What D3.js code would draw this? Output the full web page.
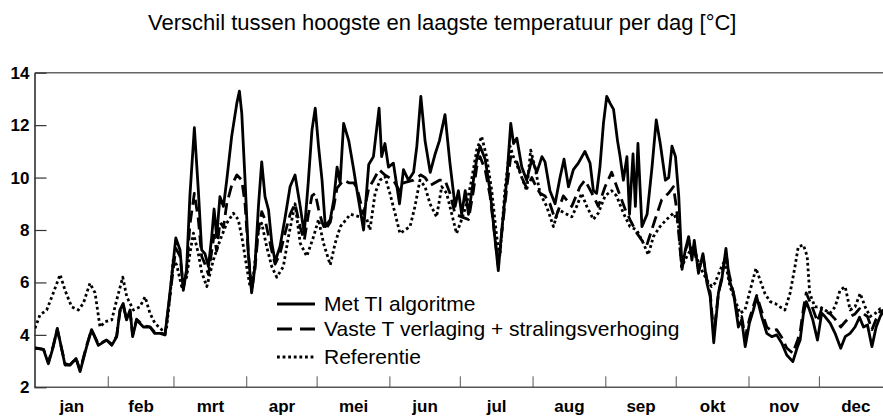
<!DOCTYPE html>
<html>
<head>
<meta charset="utf-8">
<script src="https://cdn.jsdelivr.net/npm/d3@7"></script>
<style>
  body { margin: 0; background: #fff; }
  svg text { font-family: "Liberation Sans", Arial, sans-serif; fill: #000; }
</style>
</head>
<body>
<div id="chart"></div>
<script>
// Month labels and first day of each month (day of year, 0 = 1 jan)
var months = ["jan", "feb", "mrt", "apr", "mei", "jun", "jul", "aug", "sep", "okt", "nov", "dec"];
var monthStart = [0, 31, 59, 90, 120, 151, 181, 212, 243, 273, 304, 334, 365];
var yTicks = [2, 4, 6, 8, 10, 12, 14];

var seriesNames = ["Met TI algoritme", "Vaste T verlaging + stralingsverhoging", "Referentie"];

// Met TI algoritme [day, degC]
var metTI = [[0,3.5],[3.6,3.45],[5.7,2.9],[7.8,3.55],[9.5,4.25],[12.8,2.85],[14.9,2.85],[17.5,3.1],[19.2,2.6],[22,3.55],[24.1,4.2],[27,3.6],[30.5,3.8],[32.7,3.6],[34.8,3.93],[36.2,4.95],[37.6,5.2],[39,4.57],[40.5,4.95],[41.6,3.93],[43.3,4.57],[46.2,4.3],[49,4.3],[51,4.06],[53.3,4.06],[55.4,4.0],[57.5,5.6],[60,7.7],[61.8,7.24],[63.2,5.7],[64.6,6.5],[66,9.3],[67.9,11.9],[69.6,9.5],[71,7.24],[72.4,7.1],[73.9,6.6],[75.3,7.75],[76.3,8.8],[77.4,7.75],[78.8,9.27],[80.3,8.9],[81.7,9.9],[83.8,11.57],[86,12.84],[87.1,13.3],[88.1,12.45],[89.5,9.9],[90.9,7.1],[92.3,5.6],[93.7,6.6],[95.2,8.9],[96.6,10.6],[98,9.27],[99.5,8.77],[100.9,7.5],[102.3,6.8],[104.4,7.37],[106.6,8.5],[108.7,9.66],[110.8,10.1],[113,8.9],[114.7,7.87],[116.5,9.9],[118,11.8],[119.4,12.65],[120.8,11.2],[122.3,9.9],[123.7,8.13],[125.8,8.4],[127.3,9.14],[128.7,10.4],[130,9.8],[131.5,12.07],[133.7,11.4],[135.8,10.3],[137.2,9.5],[140,8.0],[142.2,10.5],[144.2,10.8],[146.6,12.65],[147.7,10.8],[149.1,11.3],[150.6,10.4],[152.7,10.55],[155.3,9.0],[157,10.3],[159.1,9.9],[161.3,10.2],[162.7,11.2],[164.4,13.1],[166.2,11.4],[168.4,10.2],[170.5,10.9],[172.3,11.4],[174.7,12.4],[176.8,10.55],[179,8.9],[180.4,9.5],[181.8,8.6],[183.3,9.5],[184.7,8.6],[186.8,9.9],[188.2,10.7],[189.6,11.2],[191.8,10.7],[193.9,9.5],[195.6,8.0],[197.4,6.45],[198.9,8.0],[201,9.9],[202.7,12.07],[203.9,11.3],[205.3,11.5],[207.4,10.4],[209.5,9.9],[211.7,10.7],[213.8,10.2],[216,10.8],[217.3,10.6],[219.4,9.5],[221.6,9.0],[223.7,10.0],[225.4,10.7],[227.3,9.65],[229.4,10.3],[231.5,10.55],[234.3,11.0],[236.5,10.55],[237.9,9.5],[239.3,9.4],[240.7,10.4],[242.2,12.07],[243.6,13.1],[245,12.84],[246.5,12.6],[248.2,11.4],[249.3,10.8],[250.7,9.9],[252.2,10.8],[253.3,8.6],[254.8,10.9],[255.8,8.9],[256.9,11.3],[258.6,8.13],[260.8,8.6],[262.9,10.4],[264.7,12.2],[266.4,11.3],[268.6,9.9],[270,10.0],[271.4,11.2],[272.9,10.8],[274.3,9.27],[275.7,6.5],[277.1,7.25],[278.5,7.75],[279.9,6.85],[280.9,7.6],[282.7,6.35],[284.6,7.1],[286.3,5.97],[287.7,5.45],[289.2,3.7],[291.2,5.6],[292.6,6.1],[294.4,7.3],[295.8,6.1],[297.6,5.6],[299.7,4.3],[301.1,4.57],[302.6,3.55],[304.4,4.45],[306.1,4.95],[307.5,5.45],[309.6,4.7],[311.8,4.06],[313.9,3.93],[316,4.0],[318.2,3.68],[320.3,3.23],[322.9,2.98],[324.9,3.55],[326,3.8],[327.4,4.8],[328.6,5.27],[330,4.95],[331.4,4.57],[333.4,3.8],[335.2,4.83],[336.6,4.7],[338.8,4.45],[340.9,4.06],[343.3,3.49],[345.2,3.93],[347.3,4.06],[349.4,4.3],[351.3,4.67],[353,4.3],[354.7,4.38],[356.6,3.55],[358.4,4.3],[360.1,4.7],[361.4,4.9],[364,5.1]];

// Vaste T verlaging + stralingsverhoging
var vasteT = [[0,3.5],[3.6,3.45],[5.7,2.95],[7.8,3.6],[9.5,4.2],[12.8,2.9],[14.9,2.85],[17.5,3.1],[19.2,2.65],[22,3.6],[24.1,4.2],[27,3.65],[30.5,3.8],[32.7,3.65],[34.8,3.95],[36.2,4.9],[37.6,5.1],[39,4.6],[40.5,4.9],[41.6,4.0],[43.3,4.6],[46.2,4.35],[49,4.3],[51,4.1],[53.3,4.1],[55.4,4.0],[57.5,5.5],[60,7.3],[61.8,7.0],[63.2,5.8],[64.6,6.4],[66,8.2],[67.9,9.4],[69.6,8.4],[71,7.0],[72.4,6.7],[73.9,6.3],[75.3,7.2],[76.3,7.8],[77.4,7.2],[78.8,8.3],[80.3,8.1],[81.7,9.0],[83.8,9.7],[86,10.1],[88.1,9.9],[89.5,9.0],[90.9,7.1],[92.3,5.7],[93.7,6.5],[95.2,8.0],[96.6,8.7],[98,8.4],[100.9,7.2],[102.3,6.7],[104.4,7.1],[106.6,7.9],[108.7,8.6],[110.8,9.0],[113,8.1],[114.7,7.6],[116.5,8.6],[118,9.3],[119.4,9.4],[120.8,8.8],[122.3,8.3],[123.7,8.0],[125.8,8.3],[127.3,8.9],[128.7,9.6],[131.5,9.9],[133.7,9.8],[135.8,9.8],[137.2,9.6],[140,8.6],[142.2,9.6],[144.2,9.9],[146.6,10.3],[149.1,10.1],[152.7,9.9],[155.3,9.5],[157,9.8],[161.3,9.9],[164.4,10.1],[166.2,10.0],[168.4,9.7],[172.3,9.9],[174.7,9.9],[176.8,9.4],[179,8.6],[181.8,8.5],[184.7,8.4],[186.8,9.5],[188.2,10.4],[189.6,10.8],[191.8,10.3],[193.9,9.3],[195.6,8.0],[197.4,6.6],[198.9,7.9],[201,9.6],[202.7,10.8],[205.3,10.6],[207.4,10.0],[209.5,9.6],[211.7,10.0],[213.8,9.6],[215.2,9.4],[217.3,9.3],[219.4,9.0],[221.6,8.4],[225.1,9.3],[228.7,8.9],[232.2,9.65],[234.3,9.9],[237.9,9.3],[240,8.9],[242.9,9.65],[245.7,10.2],[248.5,9.5],[251.4,8.8],[253.5,8.4],[256.3,7.9],[258.6,7.6],[260.6,7.4],[264.2,8.4],[267,9.15],[269.9,9.4],[272,9.65],[273.4,8.8],[275.5,6.6],[277.1,7.2],[278.5,7.6],[280.5,7.4],[282.7,6.5],[284.6,7.0],[286.3,6.1],[287.7,5.6],[289.2,4.0],[291.2,5.6],[292.6,6.2],[294.4,7.1],[295.8,6.3],[297.6,5.6],[299.7,4.6],[301.1,4.7],[302.6,3.9],[304.4,4.6],[306.1,5.1],[307.5,5.5],[309.6,4.9],[311.8,4.3],[313.9,4.15],[316,4.2],[318.2,3.9],[320.3,3.5],[322.9,3.3],[324.9,3.8],[326,4.1],[327.4,5.0],[328.6,5.6],[330,5.3],[331.4,5.0],[333.4,4.5],[335.2,5.0],[336.6,4.9],[338.8,4.8],[340.9,4.6],[343.3,4.3],[345.2,4.5],[347.3,4.7],[349.4,4.8],[351.3,5.0],[353,4.8],[354.7,4.7],[356.6,4.2],[358.4,4.6],[360.1,4.9],[364,5.0]];

// Referentie
var referentie = [[0,4.25],[2.1,4.76],[5,4.95],[7.8,5.6],[10.7,6.3],[12.8,5.7],[15.6,5.07],[18.5,4.95],[20.6,5.2],[23.4,5.97],[25.6,5.6],[27.7,4.3],[29.8,4.5],[32.7,4.57],[34.8,5.33],[37.4,6.2],[39.1,5.45],[41.9,4.95],[44.7,5.07],[46.9,5.45],[49,4.82],[51.1,4.44],[54,4.2],[56.1,4.3],[57.5,5.45],[58.9,6.86],[60.4,6.66],[62.5,5.84],[64.6,6.2],[66,7.1],[67.5,7.88],[69.6,7.1],[71,6.4],[73.2,5.84],[76,6.86],[78.8,7.6],[81.7,8.26],[84.5,8.64],[86.6,8.4],[88.1,7.75],[90.2,6.6],[91.6,5.84],[93,6.2],[95.2,8.0],[96.6,8.26],[98.7,7.37],[100.9,6.6],[103,6.2],[105.8,6.6],[108,7.75],[110.8,9.0],[113,7.5],[115.8,7.0],[118.7,7.75],[120.8,8.4],[122.9,7.5],[125.8,6.67],[127.9,7.5],[130.1,8.13],[134.4,8.6],[138.6,8.5],[141.4,8.4],[142.7,8.0],[144.9,9.4],[147,9.9],[149.1,10.04],[151.2,9.4],[153.4,8.64],[155.5,7.87],[157.6,8.0],[159.8,8.13],[161.9,8.9],[164,9.9],[166.2,9.65],[168.3,9.0],[171.1,8.5],[173.3,9.65],[175.4,9.4],[177.5,8.64],[179.6,7.87],[181.8,8.4],[183.9,9.0],[186,9.9],[188.2,11.05],[190.3,11.57],[192.4,10.8],[194.6,9.5],[196.7,7.75],[198.1,7.0],[200.2,9.5],[202.4,11.2],[203.8,10.8],[206.6,10.2],[209.5,9.5],[211.2,11.05],[213,10.4],[215.2,9.4],[218,8.9],[220.9,8.13],[223,8.77],[225.8,8.64],[228.7,8.5],[230.8,8.9],[232.9,9.4],[235.1,8.9],[237.9,8.4],[240,8.64],[242.9,9.3],[245.7,9.5],[247.8,9.3],[250.7,8.64],[253.5,8.13],[256.4,8.0],[259.2,7.5],[261.3,7.05],[263.5,7.75],[266.3,8.13],[269.1,8.4],[272,8.64],[274.1,8.26],[275.5,6.6],[278.4,7.1],[280.5,7.37],[283.3,6.6],[286.2,6.1],[288.3,5.84],[289.7,5.97],[291.9,6.47],[294,6.86],[296.1,5.84],[298.3,5.33],[300.4,4.82],[302.5,4.95],[304.7,5.7],[307.2,6.54],[308.9,6.1],[311,5.58],[313.2,5.27],[315.3,5.2],[317.4,5.07],[319.5,4.95],[321.7,5.58],[323.8,6.6],[325.2,7.36],[327.4,7.43],[329,7.0],[330.1,5.58],[332.3,5.07],[334.4,5.07],[336.6,4.95],[338.7,4.82],[340.9,5.07],[343,5.7],[345.2,5.84],[347.3,4.95],[349.4,5.07],[351.6,5.58],[353.7,5.07],[355.8,4.7],[358,4.82],[360.1,5.0],[364,5.0]];

var width = 883, height = 416;
var plotLeft = 35, plotTop = 72.7, plotBottom = 387.3;

var svg = d3.select("#chart").append("svg")
  .attr("width", width)
  .attr("height", height)
  .style("display", "block");

svg.append("rect").attr("width", width).attr("height", height).attr("fill", "#fff");

// scales: plot runs past the right edge of the picture (crop)
var x = d3.scaleLinear().domain([0, 365]).range([plotLeft, plotLeft + 365 * 2.347]);
var y = d3.scaleLinear().domain([2, 14]).range([plotBottom, plotTop]);

// title
svg.append("text")
  .attr("x", 148)
  .attr("y", 30)
  .style("font-size", "22px")
  .text("Verschil tussen hoogste en laagste temperatuur per dag [\u00B0C]");

// top border
svg.append("line")
  .attr("x1", plotLeft).attr("x2", width)
  .attr("y1", plotTop).attr("y2", plotTop)
  .attr("stroke", "#666").attr("stroke-width", 1.5);

// x axis: month ticks pointing up, labels centred in the month
var xAxis = svg.append("g")
  .attr("transform", "translate(0," + plotBottom + ")")
  .call(d3.axisBottom(x).tickValues(monthStart.slice(1, 12)).tickSize(-11).tickSizeOuter(0).tickFormat(""));
xAxis.select(".domain").attr("stroke", "#555").attr("stroke-width", 1.5).attr("d", "M" + plotLeft + ",0H" + width);
xAxis.selectAll(".tick line").attr("stroke", "#555");

var mids = months.map((m, i) => (monthStart[i] + monthStart[i + 1]) / 2);
var xLabels = svg.append("g")
  .attr("transform", "translate(0," + plotBottom + ")")
  .call(d3.axisBottom(x).tickValues(mids).tickSize(0).tickFormat((d, i) => months[i]));
xLabels.select(".domain").remove();
xLabels.selectAll("text")
  .attr("y", 0)
  .attr("dy", "25px")
  .style("font-family", '"Liberation Sans", Arial, sans-serif')
  .style("font-size", "17px")
  .style("font-weight", "bold")
  .attr("fill", "#000");

// y axis: ticks pointing inward
var yAxis = svg.append("g")
  .attr("transform", "translate(" + (plotLeft - 0.5) + ",0)")
  .call(d3.axisLeft(y).tickValues(yTicks).tickSize(-12).tickSizeOuter(0).tickPadding(6));
yAxis.select(".domain").attr("stroke", "#222").attr("stroke-width", 1.5);
yAxis.selectAll(".tick line").attr("stroke", "#333").attr("stroke-width", 1.2);
yAxis.selectAll("text")
  .attr("x", -5)
  .style("font-family", '"Liberation Sans", Arial, sans-serif')
  .style("font-size", "17px")
  .style("font-weight", "bold")
  .attr("fill", "#000");

// clip for the lines
svg.append("clipPath").attr("id", "plotclip")
  .append("rect")
  .attr("x", plotLeft).attr("y", plotTop)
  .attr("width", width - plotLeft).attr("height", plotBottom - plotTop);

var line = d3.line()
  .x((d) => x(d[0]))
  .y((d) => y(d[1]));

var styles = [
  { data: metTI, dash: null },
  { data: vasteT, dash: "12,6" },
  { data: referentie, dash: "2.8,2.8" },
];

var plot = svg.append("g").attr("clip-path", "url(#plotclip)");
// draw referentie first, solid on top
styles.slice().reverse().forEach((s) => {
  plot.append("path")
    .datum(s.data)
    .attr("d", line)
    .attr("fill", "none")
    .attr("stroke", "#000")
    .attr("stroke-width", 2.8)
    .attr("stroke-linejoin", "round")
    .attr("stroke-dasharray", s.dash);
});

// Legend
var legendRows = [311, 336, 364];
var legend = svg.append("g");
styles.forEach((s, i) => {
  legend.append("line")
    .attr("x1", 277).attr("x2", 315)
    .attr("y1", legendRows[i] - 7).attr("y2", legendRows[i] - 7)
    .attr("stroke", "#000")
    .attr("stroke-width", 2.8)
    .attr("stroke-dasharray", i == 1 ? "15,8" : s.dash);
  legend.append("text")
    .attr("x", 324)
    .attr("y", legendRows[i])
    .style("font-size", "21px")
    .text(seriesNames[i]);
});
</script>
</body>
</html>
